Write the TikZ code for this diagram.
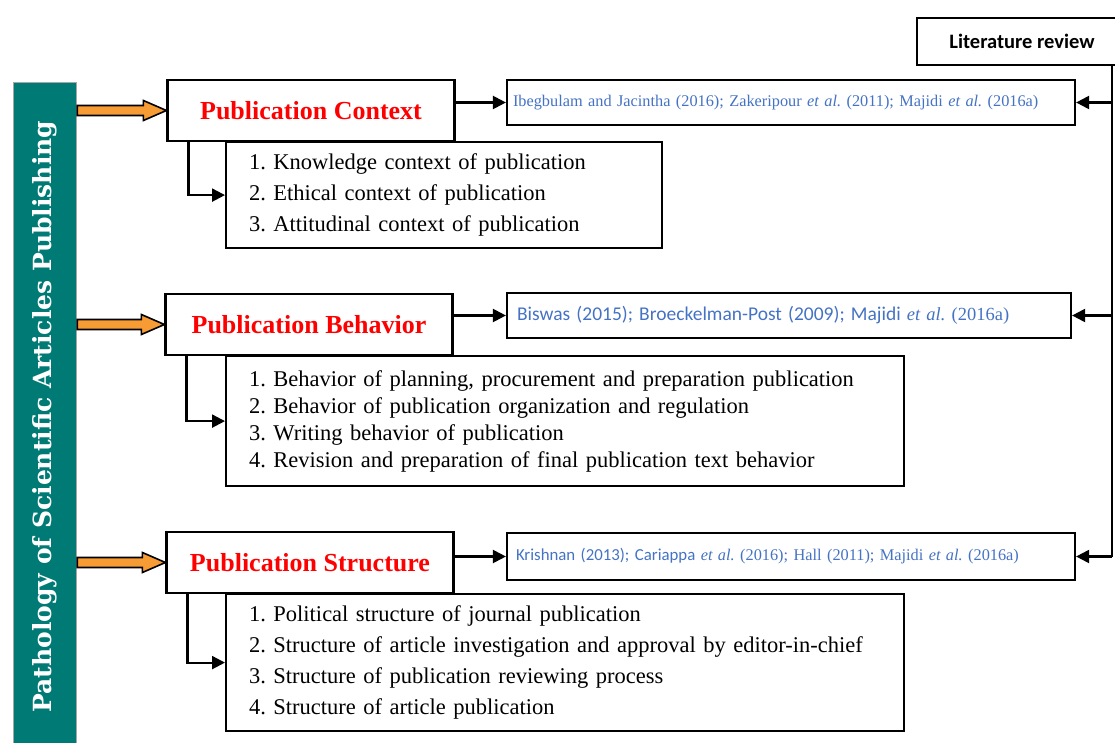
\documentclass[tikz,border=0pt]{standalone}
\usepackage{fontspec}
\setmainfont{Liberation Serif}
\newfontfamily\calibri{Carlito}
\newfontfamily\slabfont{DejaVu Serif}
\usetikzlibrary{arrows.meta,calc}
\definecolor{barteal}{RGB}{0,122,117}
\definecolor{arroworange}{RGB}{247,155,52}
\definecolor{citeblue}{RGB}{68,114,196}
\definecolor{titlered}{RGB}{255,0,0}
\newcommand{\etal}{\textit{et al.}}
\frenchspacing

\begin{document}
\begin{tikzpicture}[
    x=1pt, y=-1pt, >={Triangle[length=13pt,width=13pt]}, line width=2.2pt,
    titlebox/.style={draw, minimum width=287pt, minimum height=61pt, text=titlered, font=\fontsize{26}{30}\selectfont\bfseries},
    listbox/.style={draw, anchor=north west, align=left, inner xsep=23pt, font=\fontsize{22.5}{31}\selectfont},
    citebox/.style={draw, minimum height=45pt, inner xsep=6pt, align=left, text=citeblue, font=\fontsize{16.3}{18}\selectfont},
    pointer/.style={fill=arroworange, line width=1.6pt, line join=miter}
  ]
  \useasboundingbox (0,0) rectangle (1115,743);

  % left bar
  \node[draw=gray!70, fill=barteal, line width=1.2pt, minimum width=63pt, minimum height=668pt, anchor=north west, inner sep=0pt] (bar) at (13,82) {};
  \node[rotate=90, text=white, font=\slabfont\bfseries\fontsize{25}{25}\selectfont] (bartext) at (bar.center) {Pathology of Scientific Articles Publishing};

  % titles and lists
  \node[titlebox] (context) at (311,110.5) {Publication Context};
  \node[titlebox] (behavior) at (309,324.5) {Publication Behavior};
  \node[titlebox] (structure) at (310,562.5) {Publication Structure};

  \node[listbox, text width=390pt, minimum height=106pt] (list1) at (225,141) {1. Knowledge context of publication\\2. Ethical context of publication\\3. Attitudinal context of publication};
  \node[listbox, text width=632pt, minimum height=130pt, font=\fontsize{22.5}{27}\selectfont] (list2) at (225,355) {1. Behavior of planning, procurement and preparation publication\\2. Behavior of publication organization and regulation\\3. Writing behavior of publication\\4. Revision and preparation of final publication text behavior};
  \node[listbox, text width=632pt, minimum height=137pt] (list3) at (225,593) {1. Political structure of journal publication\\2. Structure of article investigation and approval by editor-in-chief\\3. Structure of publication reviewing process\\4. Structure of article publication};

  % references
  \node[draw, minimum width=210pt, minimum height=47pt, font=\calibri\bfseries\fontsize{20.5}{24}\selectfont] (lit) at (1022,41.5) {Literature review};
  \node[citebox, text width=556pt] (cite1) at (791,102.5) {Ibegbulam and Jacintha (2016); Zakeripour \etal{} (2011); Majidi \etal{} (2016a)};
  \node[citebox, text width=544pt, inner xsep=10pt, font=\fontsize{18.5}{20}\selectfont] (cite2) at (789,315.5) {{\calibri\fontsize{19.5}{20}\selectfont Biswas (2015); Broeckelman-Post (2009); Majidi} \etal{} (2016a)};
  \node[citebox, text width=550pt, inner xsep=9pt, minimum height=47pt] (cite3) at (791,556.5) {{\calibri\fontsize{16.8}{18}\selectfont Krishnan (2013); Cariappa} \etal{} (2016); Hall (2011); Majidi \etal{} (2016a)};
  \coordinate (spine) at (1112,0);

  % connectors
  \foreach \t in {context,behavior,structure}
    \draw[pointer] let \p1=(bar.east |- \t.west), \p2=(\t.west) in
      (\x1,\y1+5pt) -- (\x2-23pt,\y2+5pt) -- (\x2-23pt,\y2+10pt) -- (\p2) -- (\x2-23pt,\y2-10pt) -- (\x2-23pt,\y2-5pt) -- (\x1,\y1-5pt) -- cycle;
  \foreach \t/\l in {context/list1,behavior/list2,structure/list3}
    \draw[->] ([xshift=22pt]\t.south west) |- (\l.west);
  \foreach \t/\c in {context/cite1,behavior/cite2,structure/cite3}
    \draw[->] (\t.east |- \c.west) -- (\c.west);
  \draw (spine |- lit.south) -- (spine |- cite3.east);
  \foreach \c in {cite1,cite2,cite3}
    \draw[->] (spine |- \c.east) -- (\c.east);
\end{tikzpicture}
\end{document}
